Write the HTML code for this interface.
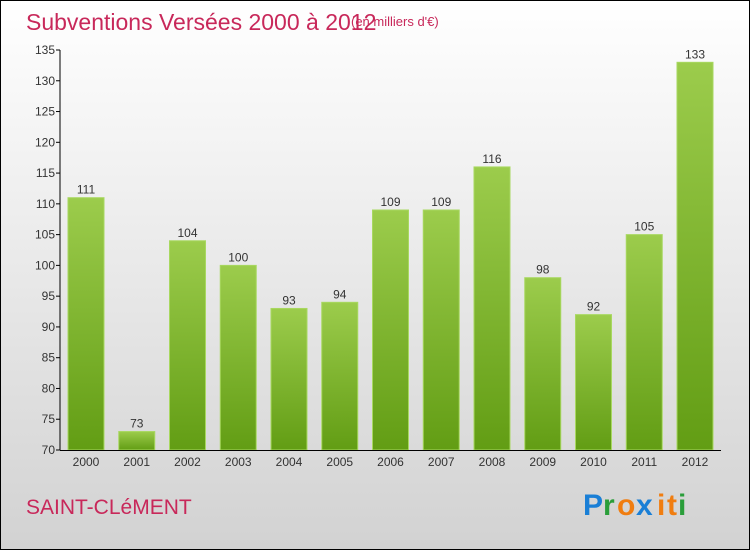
<!DOCTYPE html>
<html><head><meta charset="utf-8"><style>
body{margin:0}
#c{width:750px;height:550px;position:relative;overflow:hidden;font-family:"Liberation Sans",sans-serif}
</style></head><body>
<div id="c">
<svg id="s" width="750" height="550" xmlns="http://www.w3.org/2000/svg">
<defs>
<linearGradient id="bg" x1="0" y1="0" x2="0" y2="1"><stop offset="0" stop-color="#ffffff"/><stop offset="1" stop-color="#d2d2d2"/></linearGradient>
<linearGradient id="bar" x1="0" y1="0" x2="0" y2="1"><stop offset="0" stop-color="#9ccc4c"/><stop offset="1" stop-color="#629d14"/></linearGradient>
</defs>
<rect x="0.5" y="0.5" width="749" height="549" fill="url(#bg)" stroke="#000"/>
<text x="26" y="30" font-size="23" fill="#c8285a">Subventions Versées 2000 à 2012</text>
<text x="351" y="26" font-size="13" fill="#c8285a">(en milliers d'€)</text>
<text x="26" y="514" font-size="21" fill="#c8285a">SAINT-CLéMENT</text>
<g font-size="30" font-weight="bold">
<text x="583" y="515" fill="#1a7fd6">P</text><text x="603" y="515" fill="#2a9e3a">r</text><text x="617" y="515" fill="#f07d10">o</text><text x="636" y="515" fill="#1a7fd6">x</text><text x="657" y="515" fill="#f07d10">i</text><text x="667" y="515" fill="#f07d10">t</text><text x="678" y="515" fill="#2a9e3a">i</text>
</g>
<g id="plot"></g>
</svg>
</div>
<script>
const categories=["2000","2001","2002","2003","2004","2005","2006","2007","2008","2009","2010","2011","2012"];
const values=[111,73,104,100,93,94,109,109,116,98,92,105,133];
const yTicks=[70,75,80,85,90,95,100,105,110,115,120,125,130,135];
const NS="http://www.w3.org/2000/svg";
const g=document.getElementById('plot');
const y=v=>450-(v-70)*400/65;
const x=i=>86+i*50.75;
function mk(t,a){const e=document.createElementNS(NS,t);for(const k in a)e.setAttribute(k,a[k]);g.appendChild(e);return e;}
values.forEach((v,i)=>{
 const r=mk('rect',{x:x(i)-18,y:y(v),width:36,height:450-y(v),fill:'url(#bar)',stroke:'#a8d860','stroke-width':1});
 
 
 const t=mk('text',{x:x(i),y:y(v)-4,'text-anchor':'middle','font-size':12,fill:'#333'});
 t.textContent=v;
 
 
 const c=mk('text',{x:x(i),y:466,'text-anchor':'middle','font-size':12,fill:'#333'});
 c.textContent=categories[i];
 
 
});
yTicks.forEach(v=>{
 const l=mk('line',{x1:56,x2:60,y1:y(v),y2:y(v),stroke:'#000'});
 
 
 const t=mk('text',{x:55,y:y(v)+4,'text-anchor':'end','font-size':12,fill:'#333'});
 t.textContent=v;
 
 
});
const ya=mk('line',{x1:60,x2:60,y1:50,y2:450,stroke:'#000'});


const xa=mk('line',{x1:60,x2:721,y1:450.5,y2:450.5,stroke:'#000'});


</script>
</body></html>
